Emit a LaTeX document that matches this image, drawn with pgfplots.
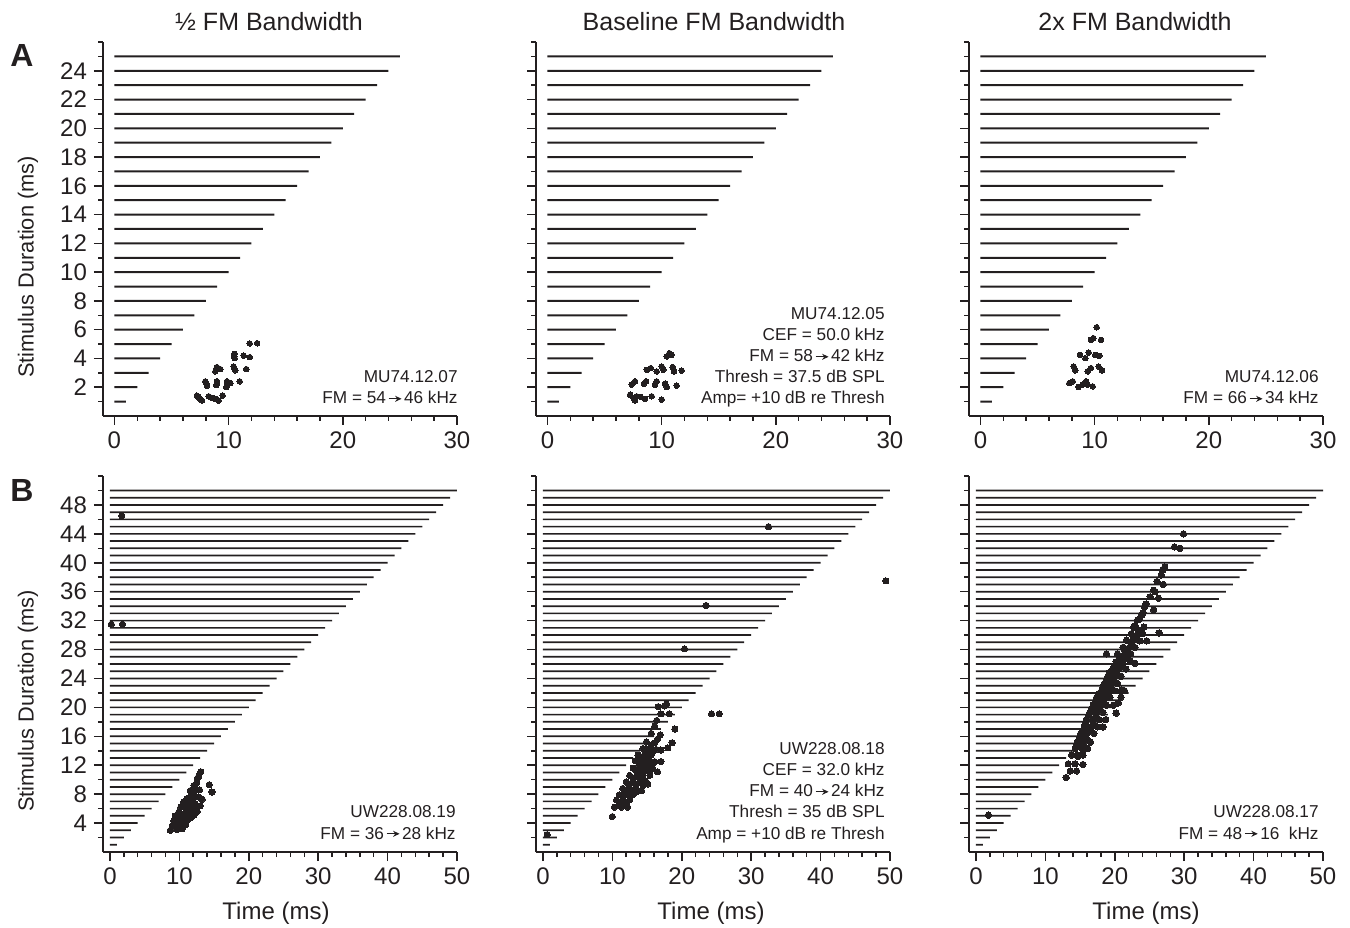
\documentclass[border=0pt]{standalone}
\usepackage{fontspec}
\setmainfont{Liberation Sans}
\usepackage{pgfplots}
\pgfplotsset{compat=1.18}
\usetikzlibrary{arrows.meta}
\definecolor{ink}{HTML}{231F20}
\pgfplotsset{
  rast/.style={scale only axis, width=177pt, anchor=south west, clip=false,
    axis x line*=bottom, axis y line*=left, xtick pos=left, ytick pos=left,
    tick align=outside, major tick length=4.5pt, minor tick length=2.5pt,
    axis line style={line width=0.75pt, ink},
    tick style={line width=0.75pt, ink},
    minor tick style={line width=0.75pt, ink},
    xmin=-1, /pgf/number format/assume math mode=true,
    tick label style={font=\fontsize{12}{12}\selectfont, text=ink}},
  rowA/.style={rast, height=187pt, ymin=0, ymax=26, xmax=30,
    xtick={0,10,20,30}, minor xtick={2,4,6,8,12,14,16,18,22,24,26,28},
    ytick={2,4,6,8,10,12,14,16,18,20,22,24},
    minor ytick={1,3,5,7,9,11,13,15,17,19,21,23,25,26}},
  rowB/.style={rast, height=188pt, ymin=0, ymax=52, xmax=50,
    xtick={0,10,20,30,40,50}, minor xtick={2,4,6,8,12,14,16,18,22,24,26,28,32,34,36,38,42,44,46,48},
    ytick={4,8,12,16,20,24,28,32,36,40,44,48},
    minor ytick={2,6,10,14,18,22,26,30,34,38,42,46,50,52}},
  ras/.style={xbar, bar width=#1, fill=ink, draw=none},
  spk/.style={only marks, mark=*, mark size=#1, ink, mark options={fill=ink, draw=ink, line width=0pt}},
  spk/.default=1.4pt
}
\newcommand{\ann}[3]{\node[anchor=base east, inner sep=0pt, text=ink, font=\fontsize{8.6}{10}\selectfont] at (#1pt,#2pt) {#3};}
\newcommand{\arr}{\kern1pt\tikz[baseline=-2.6pt]\draw[ink, line width=0.55pt,-{Stealth[length=3.2pt,width=3pt]}] (0,0)--(6.5pt,0);\kern1pt}
\begin{document}
\begin{tikzpicture}
\path[use as bounding box] (0,0) rectangle (675pt,463.5pt);
% ---------------- Row A ----------------
\begin{axis}[rowA, at={(51.5pt,255.5pt)}]
\addplot[ras=1pt] coordinates {(1,1)(2,2)(3,3)(4,4)(5,5)(6,6)(7,7)(8,8)(9,9)(10,10)(11,11)(12,12)(13,13)(14,14)(15,15)(16,16)(17,17)(18,18)(19,19)(20,20)(21,21)(22,22)(23,23)(24,24)(25,25)};
\addplot[spk] coordinates {(7.23,1.42)(7.38,1.26)(7.52,1.14)(7.67,1.07)(7.35,1.35)(8.25,1.37)(8.4,1.3)(8.55,1.26)(8.84,1.19)(9.13,1.07)(9.48,1.42)
(7.96,2.41)(8.05,2.25)(8.11,2.11)(8.98,2.41)(9.0,2.3)(8.92,2.16)(9.86,2.41)(9.8,2.02)(10.15,2.29)(10.97,2.41)
(8.84,3.1)(8.9,3.25)(8.98,3.4)(9.27,3.26)(10.44,3.44)(10.5,3.3)(10.59,3.17)(11.55,3.26)
(10.5,4.32)(10.5,4.15)(10.53,4.02)(11.32,4.2)(11.85,4.09)
(11.85,5.04)(12.5,5.06)};
\end{axis}
\begin{axis}[rowA, at={(268pt,255.5pt)}, yticklabels={}]
\addplot[ras=1pt] coordinates {(1,1)(2,2)(3,3)(4,4)(5,5)(6,6)(7,7)(8,8)(9,9)(10,10)(11,11)(12,12)(13,13)(14,14)(15,15)(16,16)(17,17)(18,18)(19,19)(20,20)(21,21)(22,22)(23,23)(24,24)(25,25)};
\addplot[spk] coordinates {(7.24,1.48)(7.53,1.26)(7.82,1.37)(7.67,1.07)(8.17,1.33)(8.55,1.19)(9.13,1.37)(10.01,1.14)
(7.38,2.18)(7.67,2.41)(8.46,2.25)(8.64,2.41)(9.42,2.18)(9.57,2.41)(10.3,2.25)(10.45,2.02)(11.32,2.11)
(8.7,3.21)(9.05,3.33)(9.57,3.1)(10.01,3.44)(10.15,3.21)(10.97,3.4)(11.09,3.1)(11.76,3.15)
(10.45,4.14)(10.68,4.37)(10.88,4.25)};
\end{axis}
\begin{axis}[rowA, at={(484.5pt,255.5pt)}, yticklabels={}]
\addplot[ras=1pt] coordinates {(1,1)(2,2)(3,3)(4,4)(5,5)(6,6)(7,7)(8,8)(9,9)(10,10)(11,11)(12,12)(13,13)(14,14)(15,15)(16,16)(17,17)(18,18)(19,19)(20,20)(21,21)(22,22)(23,23)(24,24)(25,25)};
\addplot[spk] coordinates {(7.79,2.29)(8.08,2.41)(8.6,2.02)(8.95,2.18)(9.25,2.41)(9.39,2.18)(9.83,2.06)
(8.17,3.44)(8.31,3.17)(9.39,3.1)(9.68,3.33)(10.35,3.44)(10.65,3.17)
(8.72,4.25)(9.19,4.02)(9.48,4.41)(10.06,4.25)(10.41,4.18)
(9.68,5.29)(9.89,5.41)(10.56,5.29)(10.18,6.17)};
\end{axis}
% ---------------- Row B ----------------
\begin{axis}[rowB, at={(51.5pt,37.5pt)}]
\addplot[ras=0.85pt] coordinates {(1,1)(2,2)(3,3)(4,4)(5,5)(6,6)(7,7)(8,8)(9,9)(10,10)(11,11)(12,12)(13,13)(14,14)(15,15)(16,16)(17,17)(18,18)(19,19)(20,20)(21,21)(22,22)(23,23)(24,24)(25,25)(26,26)(27,27)(28,28)(29,29)(30,30)(31,31)(32,32)(33,33)(34,34)(35,35)(36,36)(37,37)(38,38)(39,39)(40,40)(41,41)(42,42)(43,43)(44,44)(45,45)(46,46)(47,47)(48,48)(49,49)(50,50)};
\addplot[spk=1.55pt] coordinates {(13.1,11.1)(12.8,10.5)(12.6,10.2)(14.3,9.3)(14.7,8.3)(12.1,9.2)(11.6,8.5)(12.3,8.8)(11.8,7.9)(12.8,7.6)(13.3,7.3)(11.1,7.4)(10.6,6.9)(11.4,6.7)(12.3,6.7)(10.2,6.2)(11.1,6.2)(12.1,6.2)(13.0,6.4)(9.9,5.5)(10.9,5.5)(11.8,5.5)(12.6,5.6)(9.4,5.0)(10.4,4.9)(11.4,5.0)(12.1,5.1)(9.2,4.3)(10.2,4.3)(11.1,4.4)(9.0,3.7)(9.9,3.7)(10.9,3.8)(8.7,3.0)(9.7,3.1)(10.4,3.2)
(9.5,4.6)(10.7,4.6)(11.6,4.7)(9.4,3.4)(10.3,3.5)(10.5,5.2)(11.3,5.8)(12.3,5.9)(10.6,6.5)(11.9,7.0)(12.2,7.6)(12.0,8.2)(12.9,8.6)(12.5,9.6)
(0.2,31.5)(1.8,31.5)(1.7,46.5)};
\end{axis}
\begin{axis}[rowB, at={(268pt,37.5pt)}, yticklabels={}]
\addplot[ras=0.85pt] coordinates {(1,1)(2,2)(3,3)(4,4)(5,5)(6,6)(7,7)(8,8)(9,9)(10,10)(11,11)(12,12)(13,13)(14,14)(15,15)(16,16)(17,17)(18,18)(19,19)(20,20)(21,21)(22,22)(23,23)(24,24)(25,25)(26,26)(27,27)(28,28)(29,29)(30,30)(31,31)(32,32)(33,33)(34,34)(35,35)(36,36)(37,37)(38,38)(39,39)(40,40)(41,41)(42,42)(43,43)(44,44)(45,45)(46,46)(47,47)(48,48)(49,49)(50,50)};
\addplot[spk=1.55pt] coordinates {(17.8,20.5)(17.5,20.2)(16.6,20.1)(17.0,19.1)(18.2,19.1)(16.4,18.2)(16.1,17.4)(19.0,17.0)(15.6,16.4)(16.9,16.2)(14.9,15.2)(16.1,15.1)(18.6,15.1)(14.4,14.3)(15.3,14.3)(16.3,14.2)(18.0,14.4)(17.0,14.1)(13.7,13.4)(14.6,13.4)(15.6,13.4)(13.3,12.6)(14.3,12.5)(15.3,12.5)(16.1,12.5)(17.0,12.5)(13.0,11.6)(14.0,11.6)(14.9,11.6)(15.8,11.6)(16.5,11.1)(12.5,10.6)(13.5,10.6)(14.4,10.6)(15.4,10.6)(12.0,9.7)(12.9,9.7)(13.9,9.7)(14.8,9.8)(15.1,9.4)(11.5,8.8)(12.5,8.8)(13.4,8.8)(14.2,8.5)(11.0,7.9)(12.0,7.9)(12.9,7.9)(13.5,8.3)(10.6,7.2)(11.5,7.2)(12.5,7.2)(10.3,6.2)(11.3,6.2)(12.2,6.2)(10.0,4.9)
(11.0,6.7)(12.0,6.7)(11.9,8.3)(12.8,8.3)(12.4,9.2)(13.4,9.2)(14.4,9.2)(13.0,10.1)(14.0,10.1)(13.5,11.1)(14.5,11.1)(15.4,11.1)(13.8,12.0)(14.8,12.0)(15.7,12.0)(14.2,12.9)(15.2,12.9)(15.0,13.9)(15.9,13.9)(15.6,14.8)(16.5,15.6)
(0.6,2.4)(20.4,28.1)(23.5,34.1)(24.3,19.1)(25.4,19.1)(32.5,45.0)(49.4,37.5)};
\end{axis}
\begin{axis}[rowB, at={(484.5pt,37.5pt)}, yticklabels={}]
\addplot[ras=0.85pt] coordinates {(1,1)(2,2)(3,3)(4,4)(5,5)(6,6)(7,7)(8,8)(9,9)(10,10)(11,11)(12,12)(13,13)(14,14)(15,15)(16,16)(17,17)(18,18)(19,19)(20,20)(21,21)(22,22)(23,23)(24,24)(25,25)(26,26)(27,27)(28,28)(29,29)(30,30)(31,31)(32,32)(33,33)(34,34)(35,35)(36,36)(37,37)(38,38)(39,39)(40,40)(41,41)(42,42)(43,43)(44,44)(45,45)(46,46)(47,47)(48,48)(49,49)(50,50)};
\addplot[spk=1.6pt] coordinates {(29.9,44.0)(28.6,42.2)(29.4,42.0)(27.2,39.4)(26.9,39.0)(26.7,38.3)(26.1,37.4)(27.0,37.0)(25.6,36.2)(25.8,36.0)(25.1,35.3)(26.3,35.1)(24.5,34.3)(24.3,33.9)(25.6,33.5)(24.1,33.1)(23.9,32.8)(23.6,32.3)(23.3,32.1)(22.9,31.3)(22.7,31.1)(24.2,31.1)(22.4,30.2)(24.0,30.2)(26.4,30.3)(21.7,29.3)(22.6,29.3)(23.6,29.2)(24.6,29.2)(21.2,28.3)(22.1,28.3)(22.9,28.3)(18.8,27.4)(20.4,27.4)(21.4,27.4)(22.3,27.4)(20.2,26.3)(21.1,26.3)(22.2,26.4)(22.9,26.1)(19.7,25.3)(20.6,25.3)(21.6,25.3)(19.0,24.3)(20.0,24.3)(20.9,24.3)(18.5,23.3)(19.5,23.3)(20.4,23.3)(21.4,22.3)(18.1,22.3)(19.0,22.3)(20.0,22.3)(21.0,22.4)(17.4,21.4)(18.4,21.4)(19.3,21.4)(20.9,21.4)(16.9,20.3)(17.9,20.3)(18.8,20.3)(19.8,20.3)(20.5,20.6)(20.2,19.2)(16.4,19.3)(17.4,19.3)(18.3,19.3)(15.9,18.3)(16.9,18.3)(17.8,18.3)(18.7,18.3)(15.6,17.3)(16.5,17.3)(17.5,17.3)(18.3,17.3)(15.1,16.4)(16.0,16.4)(17.0,16.4)(14.6,15.2)(15.6,15.2)(16.5,15.2)(14.3,14.3)(15.3,14.3)(16.1,14.3)(13.8,13.4)(14.6,13.4)(15.4,13.4)(14.7,13.2)(13.3,12.2)(14.3,12.2)(15.4,12.1)(13.6,11.2)(14.5,11.2)(13.0,10.3)(1.8,5.1)
(19.2,24.8)(20.2,24.8)(18.8,23.8)(19.8,23.8)(18.3,22.8)(19.3,22.8)(17.7,21.9)(18.8,21.9)(17.2,20.8)(18.3,20.8)(16.7,19.8)(17.8,19.8)(16.2,18.8)(17.3,18.8)(15.8,17.8)(16.9,17.8)(15.4,16.8)(16.4,16.8)(14.9,15.8)(15.9,15.8)(14.5,14.8)(15.5,14.8)(20.0,25.8)(21.0,25.8)(20.7,26.8)(21.7,26.8)(21.5,27.8)(22.4,28.8)(23.1,29.8)(23.4,30.7)};
\end{axis}
% ---------------- Text ----------------
\begin{scope}[text=ink]
\node[font=\fontsize{12.5}{14}\selectfont] at (134.5pt,452.5pt) {½ FM Bandwidth};
\node[font=\fontsize{12.5}{14}\selectfont] at (357pt,452.5pt) {Baseline FM Bandwidth};
\node[font=\fontsize{12.5}{14}\selectfont] at (567.5pt,452.5pt) {2x FM Bandwidth};
\node[font=\bfseries\fontsize{16}{16}\selectfont] at (11pt,436pt) {A};
\node[font=\bfseries\fontsize{16}{16}\selectfont] at (11pt,218.5pt) {B};
\node[rotate=90, font=\fontsize{10.9}{14}\selectfont] at (14pt,330pt) {Stimulus Duration (ms)};
\node[rotate=90, font=\fontsize{10.9}{14}\selectfont] at (14pt,113pt) {Stimulus Duration (ms)};
\node[font=\fontsize{12}{14}\selectfont] at (138pt,7pt) {Time (ms)};
\node[font=\fontsize{12}{14}\selectfont] at (355.5pt,7pt) {Time (ms)};
\node[font=\fontsize{12}{14}\selectfont] at (573pt,7pt) {Time (ms)};
\end{scope}
\ann{229}{272}{MU74.12.07}
\ann{229}{261.5}{FM = 54\arr46 kHz}
\ann{442.5}{303.5}{MU74.12.05}
\ann{442.5}{293}{CEF = 50.0 kHz}
\ann{442.5}{282.5}{FM = 58\arr42 kHz}
\ann{442.5}{272}{Thresh = 37.5 dB SPL}
\ann{442.5}{261.5}{Amp= +10 dB re Thresh}
\ann{659.5}{272}{MU74.12.06}
\ann{659.5}{261.5}{FM = 66\arr34 kHz}
\ann{228}{54.5}{UW228.08.19}
\ann{228}{44}{FM = 36\arr28 kHz}
\ann{442.5}{86}{UW228.08.18}
\ann{442.5}{75.5}{CEF = 32.0 kHz}
\ann{442.5}{65}{FM = 40\arr24 kHz}
\ann{442.5}{54.5}{Thresh = 35 dB SPL}
\ann{442.5}{44}{Amp = +10 dB re Thresh}
\ann{659.5}{54.5}{UW228.08.17}
\ann{659.5}{44}{FM = 48\arr16\ \ kHz}
\end{tikzpicture}
\end{document}
